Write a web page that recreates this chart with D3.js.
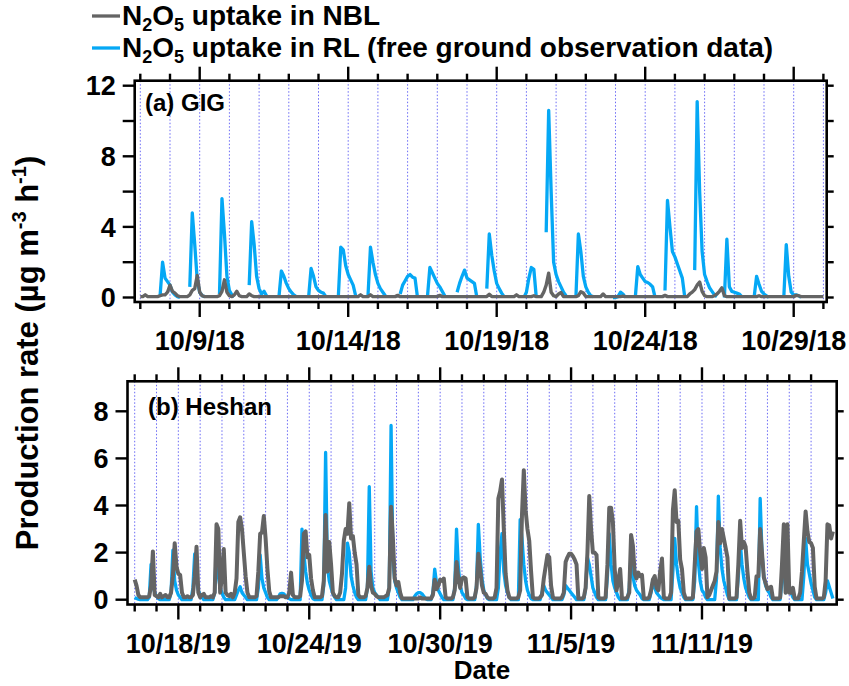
<!DOCTYPE html>
<html>
<head>
<meta charset="utf-8">
<script src="https://cdnjs.cloudflare.com/ajax/libs/d3/7.8.5/d3.min.js"></script>
<style>
  body { margin: 0; background: #fff; }
  svg text { font-family: "Liberation Sans", Arial, sans-serif; font-weight: bold; fill: #000; }
</style>
</head>
<body>
<svg id="chart" width="849" height="686"></svg>
<script>
// values read every 2 h (00,02,...,22h), one row per day, last value = 00h of the day after
let n = null

// (a) GIG, 10/7/18 - 10/29/18
let gigStart = Date.UTC(2018, 9, 7)
let gigNBL = [
    [0.05,0.05,0.15,0.05,0.05,0.05,0.05,0.05,0.1,0.15,0.15,0.3],   // 10/7
    [0.7,0.35,0.25,0.1,0.05,0.05,0.05,0.05,0.15,0.4,0.5,1.25],
    [0.3,0.1,0.05,0.05,0.05,0.05,0.05,0.05,0.1,0.35,1.0,0.3],
    [0.1,0.05,0.15,0.35,0.1,0.05,0.05,0.05,0.2,0.1,0.05,0.05],     // 10/10
    [0.05,0.05,0.05,0.05,0.05,0.05,0.05,0.05,0.05,0.05,0.05,0.05],
    [0.05,0.05,0.05,0.05,0.05,0.05,0.05,0.05,0.05,0.05,0.05,0.05],
    [0.05,0.05,0.05,0.05,0.05,0.05,0.05,0.05,0.05,0.05,0.05,0.05],
    [0.05,0.05,0.05,0.05,0.05,0.15,0.05,0.05,0.05,0.15,0.05,0.05], // 10/14
    [0.05,0.05,0.05,0.05,0.05,0.05,0.05,0.05,0.12,0.05,0.05,0.05],
    [0.05,0.05,0.05,0.05,0.05,0.05,0.05,0.05,0.05,0.05,0.05,0.05],
    [0.05,0.12,0.05,0.05,0.05,0.05,0.05,0.05,0.05,0.05,0.05,0.05],
    [0.05,0.05,0.05,0.05,0.05,0.05,0.05,0.05,0.05,0.18,0.05,0.05],
    [0.05,0.05,0.05,0.05,0.05,0.05,0.05,0.05,0.15,0.05,0.05,0.05], // 10/19
    [0.05,0.05,0.05,0.1,0.05,0.05,0.05,0.3,0.7,1.38,0.3,0.1],
    [0.05,0.2,0.28,0.05,0.05,0.05,0.05,0.05,0.05,0.1,0.33,0.25],
    [0.05,0.05,0.05,0.05,0.05,0.05,0.05,0.2,0.05,0.05,0.05,0.05],
    [0.05,0.05,0.05,0.08,0.05,0.05,0.05,0.05,0.05,0.05,0.05,0.05],
    [0.05,0.05,0.05,0.05,0.05,0.05,0.05,0.05,0.12,0.05,0.05,0.05], // 10/24
    [0.05,0.05,0.05,0.05,0.05,0.05,0.2,0.3,0.45,0.7,0.88,0.35],
    [0.1,0.05,0.05,0.05,0.1,0.2,0.35,0.55,0.1,0.05,0.05,0.05],
    [0.05,0.05,0.05,0.05,0.05,0.05,0.05,0.05,0.05,0.05,0.1,0.05],
    [0.05,0.05,0.05,0.05,0.05,0.05,0.05,0.05,0.05,0.05,0.05,0.05],
    [0.05,0.12,0.1,0.05,0.05,0.05,0.05,0.05,0.05,0.05,0.05,0.05],  // 10/29
    [0.05]
]
let gigRL = [
    [n,n,n,n,n,n,n,n,0.1,2.0,1.1,0.9],          // 10/7
    [0.7,0.3,0.15,0.05,0.0,n,n,n,0.6,4.8,3.0,1.0],
    [0.3,0.1,0.05,n,n,n,n,n,0.2,5.6,3.6,1.2],
    [0.4,0.15,0.05,n,n,n,n,n,0.7,4.3,3.0,1.2],  // 10/10
    [0.5,0.2,0.35,0.1,n,n,n,n,0.0,1.5,1.2,0.8],
    [0.5,0.3,0.15,0.05,n,n,n,n,0.0,1.65,1.2,0.6],
    [0.4,0.3,0.25,0.05,n,n,n,n,0.0,2.85,2.7,1.8],
    [1.3,1.0,0.7,0.1,n,n,n,n,0.1,2.85,2.0,1.3], // 10/14
    [0.8,0.5,0.3,0.1,n,n,n,n,n,0.2,0.7,0.95],
    [1.2,1.3,1.15,1.1,0.0,n,n,n,0.0,1.7,1.4,1.1],
    [0.8,0.6,0.35,0.1,n,n,n,n,0.3,0.8,1.2,1.55],
    [1.1,1.0,0.9,0.8,0.0,n,n,n,0.5,3.6,2.4,1.5],
    [0.8,0.5,0.25,0.05,n,n,n,n,n,n,n,0.0],       // 10/19
    [0.3,1.1,1.7,1.6,0.0,n,n,n,3.7,10.6,6.0,2.0],
    [1.3,0.9,0.6,0.3,0.1,n,n,n,0.0,3.6,2.6,1.2],
    [0.6,0.3,0.1,0.05,n,n,n,n,n,n,n,0.0],
    [0.0,0.05,0.3,0.2,0.0,n,n,n,0.0,1.75,1.3,1.1],
    [0.9,0.85,0.75,0.6,0.0,n,n,n,0.4,5.5,4.0,2.6], // 10/24
    [2.3,1.9,1.5,1.1,0.0,n,n,n,1.55,11.1,6.0,2.6],
    [1.3,0.9,0.55,0.35,0.15,0.05,n,n,0.0,3.3,0.6,0.35],
    [0.3,0.25,0.2,0.05,n,n,n,n,0.0,1.2,0.75,0.35],
    [0.2,0.1,0.0,n,n,n,n,n,0.0,3.0,1.2,0.3],
    [0.15,0.15,0.1,0.0,n,n,n,n,n,n,n,n],        // 10/29
    [n]
]

// (b) Heshan, 10/16/19 - 11/16/19
let heshanStart = Date.UTC(2019, 9, 16)
let heshanNBL = [
    [0.85,0.6,0.2,0.1,0.1,0.1,0.1,0.1,0.15,0.6,2.05,0.2],   // 10/16
    [0.15,0.1,0.25,0.1,0.15,0.2,0.1,0.1,0.3,1.0,2.4,1.4],
    [1.1,1.05,0.3,0.1,0.1,0.15,0.1,0.1,0.2,1.0,2.25,0.3],
    [0.1,0.2,0.25,0.1,0.1,0.1,0.15,0.1,0.3,3.2,3.0,0.3],
    [1.0,2.15,0.3,0.2,0.15,0.25,0.1,0.3,0.9,3.3,3.5,3.0],   // 10/20
    [2.0,1.0,0.3,0.1,0.1,0.1,0.1,0.15,1.2,2.8,2.85,3.55],
    [2.6,1.3,0.35,0.1,0.1,0.1,0.1,0.1,0.15,0.15,0.15,0.1],
    [0.1,0.3,1.15,0.2,0.1,0.1,0.1,0.15,0.8,2.8,2.9,1.8],
    [1.9,0.9,0.4,0.1,0.1,0.1,0.1,0.15,0.8,3.6,1.2,2.45],    // 10/24
    [1.5,0.3,0.15,0.1,0.1,0.3,1.1,2.5,3.0,2.8,4.1,2.6],
    [2.7,2.0,1.5,0.2,0.1,0.1,0.1,0.15,0.5,1.4,0.6,0.3],
    [0.25,0.15,0.1,0.1,0.1,0.1,0.15,0.2,0.5,3.95,2.6,0.9],
    [0.6,0.75,0.3,0.05,0.05,0.05,0.05,0.05,0.05,0.05,0.05,0.05],
    [0.05,0.1,0.05,0.05,0.05,0.05,0.05,0.05,0.2,0.85,0.45,0.6],
    [0.85,0.8,0.9,0.1,0.05,0.05,0.05,0.1,0.4,1.6,0.9,0.5],  // 10/30
    [0.9,0.95,0.9,0.1,0.05,0.05,0.05,0.1,0.5,1.95,1.3,0.6],
    [0.3,0.25,0.1,0.05,0.05,0.05,0.1,0.5,4.3,4.6,5.1,3.0],  // 11/1
    [1.1,0.4,0.1,0.05,0.05,0.05,0.05,0.1,0.4,3.6,5.5,3.8],
    [3.0,2.5,1.2,0.1,0.05,0.05,0.05,0.1,0.2,0.9,1.4,1.9],
    [1.8,0.6,0.1,0.05,0.05,0.05,0.05,0.1,0.3,1.6,1.8,1.95],
    [1.95,1.85,1.7,1.5,0.05,0.05,0.05,0.1,0.5,2.0,4.4,3.0], // 11/5
    [2.0,2.0,1.9,0.1,0.05,0.05,0.05,0.1,1.5,3.9,3.9,3.3],
    [1.3,0.4,0.8,1.3,0.05,0.05,0.05,0.1,0.3,2.75,2.3,1.1],
    [0.9,1.15,1.0,1.05,0.05,0.05,0.05,0.1,0.4,0.85,1.0,0.5],
    [0.4,1.2,1.75,0.1,0.05,0.05,0.05,0.3,3.8,4.65,3.3,3.35],
    [1.7,1.3,0.3,0.05,0.05,0.05,0.05,0.1,1.5,2.9,3.0,2.0],  // 11/10
    [1.3,2.2,1.8,0.1,0.2,0.4,0.6,0.8,1.2,3.3,2.4,3.0],
    [2.6,2.2,1.8,0.05,0.05,0.05,0.05,0.1,1.5,3.35,2.2,2.45],
    [2.25,1.2,0.3,0.05,0.05,0.1,1.0,1.0,3.0,2.0,0.95,0.7],
    [0.45,0.5,0.55,0.05,0.05,0.05,0.05,0.1,1.5,3.2,0.3,3.2],
    [0.3,0.3,0.5,0.05,0.05,0.05,0.3,1.2,2.5,3.75,2.9,2.45], // 11/15
    [2.4,2.2,0.55,0.05,0.05,0.05,0.05,0.1,0.8,3.2,3.15,2.6],
    [2.9]
]
let heshanRL = [
    [0.1,0.05,0.02,0,0,0,0,0,0.1,1.5,0.6,0.3],    // 10/16
    [0.15,0.05,0,0,0,0,0,0,0.3,2.1,0.8,0.4],
    [0.2,0.1,0,0,0,0,0,0,0.5,1.95,0.8,0.4],
    [0.2,0.1,0,0,0,0,0,0,0.3,2.4,1.0,0.5],
    [0.3,0.1,0,0,0,0,0,0,0.2,0.4,0.55,0.3],       // 10/20
    [0.2,0.1,0,0,0,0,0,0,0.5,1.9,0.9,0.5],
    [0.3,0.1,0,0,0,0,0,0.1,0.25,0.27,0.25,0.15],
    [0.1,0.05,0,0,0,0,0,0,3.0,2.0,1.2,0.7],
    [0.4,0.2,0.05,0,0,0,0,0,0.6,6.25,1.4,0.8],    // 10/24
    [0.5,0.25,0.1,0,0,0,0,0,0.5,2.4,2.0,1.0],
    [0.6,0.3,0.1,0,0,0,0,0,0.5,4.8,1.2,0.5],
    [0.3,0.2,0.1,0,0,0,0,0,0.5,7.4,1.7,0.8],
    [0.5,0.3,0.1,0,0,0,0,0,0,0,0.15,0.25],
    [0.3,0.3,0.25,0.15,0.05,0,0,0,0.3,1.3,0.7,0.4],
    [0.25,0.1,0,0,0,0,0,0,0.5,3.0,1.4,0.6],       // 10/30
    [0.3,0.2,0.05,0,0,0,0,0,0.6,3.2,1.8,0.9],
    [0.4,0.2,0.05,0,0,0,0,0,0.5,2.0,2.8,1.2],     // 11/1
    [0.6,0.3,0.1,0,0,0,0,0,3.4,2.6,1.5,0.8],
    [0.4,0.2,0.05,0,0,0,0,0,0.3,0.6,0.4,0.3],
    [0.2,0.1,0,0,0,0,0,0,0.2,0.6,0.5,0.4],
    [0.3,0.2,0.1,0,0,0,0,0,0.5,1.8,1.5,1.0],      // 11/5
    [0.5,0.3,0.1,0,0,0,0,0,1.0,2.8,1.5,0.8],
    [0.5,0.3,0.1,0,0,0,0,0,0.5,2.0,1.0,0.6],
    [0.4,0.3,0.2,0.05,0,0,0,0,0.3,0.85,0.5,0.3],
    [0.2,0.1,0.05,0,0,0,0,0,1.2,2.6,1.5,0.9],
    [0.5,0.3,0.1,0,0,0,0,0,0.8,3.95,1.6,0.8],     // 11/10
    [0.4,0.3,0.1,0,0,0,0,0,0.9,4.4,2.2,1.3],
    [0.8,0.5,0.2,0,0,0,0,0,1.0,2.5,1.5,0.9],
    [0.5,0.3,0.1,0,0,0,0,0,4.3,2.0,1.0,0.6],
    [0.4,0.3,0.1,0,0,0,0,0,0.8,2.2,0.3,0.6],
    [0.4,0.3,0.1,0,0,0,0,0,1.0,2.6,1.5,1.1],      // 11/15
    [0.7,0.4,0.1,0,0,0,0,0,0.3,0.8,0.55,0.3],
    [0.05]
]

let gigYTicks = [0, 4, 8, 12]
let gigYMinor = [2, 6, 10]
let heshanYTicks = [0, 2, 4, 6, 8]

let grey = "#646464"
let blue = "#05a8f5"

var svg = d3.select("#chart")

function toPoints(rows, start){
    return rows.flat().map(function(v, i){
        return {t: d3.utcHour.offset(new Date(start), 2 * i), v: v}
    })
}

function drawPanel(p){
    let f = p.frame
    let xScale = d3.scaleUtc().domain([new Date(p.start), new Date(p.end)]).range(p.xRange)
    let yScale = d3.scaleLinear().domain([0, p.yTop]).range(p.yRange)

    let days = d3.utcDay.range(new Date(p.start), d3.utcDay.offset(new Date(p.lastTick), 1))
    let majors = days.filter(function(d){ return p.majors.includes(d3.utcFormat("%m-%d")(d)) })

    let g = svg.append("g")

    // dotted day lines
    g.selectAll(".grid").data(days).enter().append("line")
        .attr("x1", function(d){ return xScale(d) })
        .attr("x2", function(d){ return xScale(d) })
        .attr("y1", f.t).attr("y2", f.b)
        .attr("stroke", "#6a6af5")
        .attr("stroke-width", 1)
        .attr("stroke-dasharray", "1.5,2")

    let line = d3.line()
        .defined(function(d){ return d.v !== null })
        .x(function(d){ return xScale(d.t) })
        .y(function(d){ return yScale(d.v) })

    g.append("path").datum(toPoints(p.rl, p.start))
        .attr("d", line).attr("fill", "none")
        .attr("stroke", blue).attr("stroke-width", 3.3)
        .attr("stroke-linejoin", "round")
    g.append("path").datum(toPoints(p.nbl, p.start))
        .attr("d", line).attr("fill", "none")
        .attr("stroke", grey).attr("stroke-width", p.greyWidth)
        .attr("stroke-linejoin", "round")

    // frame
    g.append("rect")
        .attr("x", f.l).attr("y", f.t)
        .attr("width", f.r - f.l).attr("height", f.b - f.t)
        .attr("fill", "none").attr("stroke", "#000").attr("stroke-width", 2.6)

    // x ticks, bottom and top
    let tickG = g.append("g").attr("stroke", "#000").attr("stroke-width", 2.4)
    days.forEach(function(d){
        let big = majors.some(function(m){ return +m === +d })
        let x = xScale(d)
        tickG.append("line").attr("x1", x).attr("x2", x)
            .attr("y1", f.b).attr("y2", f.b + (big ? 15 : 7))
        tickG.append("line").attr("x1", x).attr("x2", x)
            .attr("y1", f.t).attr("y2", f.t - (big ? 14 : 7))
    })
    g.selectAll(".xlab").data(majors).enter().append("text")
        .attr("x", function(d){ return xScale(d) })
        .attr("y", f.b + 48)
        .attr("text-anchor", "middle")
        .attr("font-size", 27)
        .text(d3.utcFormat("%-m/%-d/%y"))

    // y ticks, left and right
    p.yTicks.concat(p.yMinor).forEach(function(v){
        tickG.append("line").attr("x1", f.l).attr("x2", f.l - 12)
            .attr("y1", yScale(v)).attr("y2", yScale(v))
    })
    p.yTicks.concat(p.yMinor).forEach(function(v){
        tickG.append("line").attr("x1", f.r).attr("x2", f.r + 7)
            .attr("y1", yScale(v)).attr("y2", yScale(v))
    })
    g.selectAll(".ylab").data(p.yTicks).enter().append("text")
        .attr("x", f.l - 19)
        .attr("y", function(d){ return yScale(d) })
        .attr("dy", "0.36em")
        .attr("text-anchor", "end")
        .attr("font-size", 27)
        .text(function(d){ return d })

    g.append("text")
        .attr("x", p.labelPos[0]).attr("y", p.labelPos[1])
        .attr("font-size", 24)
        .text(p.label)
}

drawPanel({
    start: gigStart, end: Date.UTC(2018, 9, 30), lastTick: Date.UTC(2018, 9, 30),
    nbl: gigNBL, rl: gigRL,
    frame: {l: 134.7, r: 826.7, t: 80.7, b: 302},
    xRange: [140.3, 823.4],
    yTop: 12, yRange: [297.5, 85.7],
    yTicks: gigYTicks, yMinor: gigYMinor,
    majors: ["10-09", "10-14", "10-19", "10-24", "10-29"],
    label: "(a) GIG", labelPos: [145, 111],
    greyWidth: 3.4
})

drawPanel({
    start: heshanStart, end: Date.UTC(2019, 10, 17), lastTick: Date.UTC(2019, 10, 16),
    nbl: heshanNBL, rl: heshanRL,
    frame: {l: 127.5, r: 836.7, t: 381.3, b: 604.5},
    xRange: [134.7, 832.9],
    yTop: 8, yRange: [599.7, 411.3],
    yTicks: heshanYTicks, yMinor: [],
    majors: ["10-18", "10-24", "10-30", "11-05", "11-11"],
    label: "(b) Heshan", labelPos: [148, 414.5],
    greyWidth: 4
})

// axis titles
let yTitle = svg.append("text")
    .attr("transform", "translate(38, 353) rotate(-90)")
    .attr("text-anchor", "middle")
    .attr("font-size", 31)
yTitle.append("tspan").text("Production rate (µg m")
yTitle.append("tspan").attr("font-size", 20).attr("dy", -12).text("-3")
yTitle.append("tspan").attr("dy", 12).text(" h")
yTitle.append("tspan").attr("font-size", 20).attr("dy", -12).text("-1")
yTitle.append("tspan").attr("dy", 12).text(")")

svg.append("text")
    .attr("x", 482).attr("y", 679)
    .attr("text-anchor", "middle")
    .attr("font-size", 26)
    .text("Date")

// legend
let legendRows = [
    {color: grey, text: " uptake in NBL", y: 25},
    {color: blue, text: " uptake in RL (free ground observation data)", y: 57}
]
legendRows.forEach(function(r){
    svg.append("line")
        .attr("x1", 92).attr("x2", 120)
        .attr("y1", r.y - 9).attr("y2", r.y - 9)
        .attr("stroke", r.color).attr("stroke-width", 3.3)
    let t = svg.append("text").attr("x", 122).attr("y", r.y).attr("font-size", 28)
    t.append("tspan").text("N")
    t.append("tspan").attr("font-size", 18).attr("dy", 6).text("2")
    t.append("tspan").attr("dy", -6).text("O")
    t.append("tspan").attr("font-size", 18).attr("dy", 6).text("5")
    t.append("tspan").attr("dy", -6).text(r.text)
})
</script>
</body>
</html>
